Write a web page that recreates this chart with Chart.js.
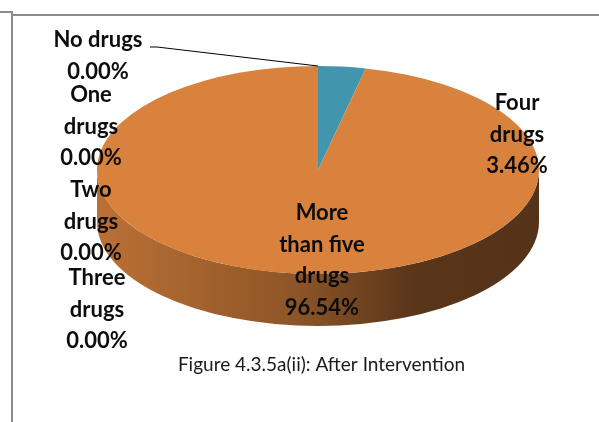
<!DOCTYPE html>
<html>
<head>
<meta charset="utf-8">
<title>After Intervention</title>
<script src="https://cdn.jsdelivr.net/npm/chart.js@4.4.1/dist/chart.umd.min.js"></script>
<style>
    html, body { margin: 0; padding: 0; background: #fff; }
    canvas { display: block; }
</style>
</head>
<body>
<canvas id="pieChart" width="599" height="422"></canvas>
<script>
// number of drugs per patient after the intervention (percent)
var categories = ['No drugs', 'One drugs', 'Two drugs', 'Three drugs', 'Four drugs', 'More than five drugs'];
var shares = [0, 0, 0, 0, 3.46, 96.54];
var sliceColors = ['#4F81BD', '#C0504D', '#9BBB59', '#8064A2', '#4196AE', '#D9823E'];
var labelLines = [['No drugs'], ['One', 'drugs'], ['Two', 'drugs'], ['Three', 'drugs'], ['Four', 'drugs'], ['More', 'than five', 'drugs']];
var caption = 'Figure 4.3.5a(ii): After Intervention';

// where the flat pie gets projected to, and how thick the slab is
var PIE = { cx: 318, cy: 170, rx: 221, ry: 104, depth: 52 };

// label block anchors (centre x, centre y of first line)
var labelPos = [[98, 40], [91, 95], [91, 190], [97, 278], [517, 103], [322, 213]];
var lineGap = 31.5;
var labelFont = 'bold 22px Lato, "Open Sans", sans-serif';

function shade(hex, f) {
    var n = parseInt(hex.slice(1), 16);
    var r = Math.round(((n >> 16) & 255) * f);
    var g = Math.round(((n >> 8) & 255) * f);
    var b = Math.round((n & 255) * f);
    return 'rgb(' + r + ',' + g + ',' + b + ')';
}

function ellipsePoint(t) {
    return { x: PIE.cx + PIE.rx * Math.cos(t), y: PIE.cy + PIE.ry * Math.sin(t) };
}

var pie3d = {
    id: 'pie3d',
    beforeDatasetsDraw: function (chart) {
        var ctx = chart.ctx;
        var arcs = chart.getDatasetMeta(0).data;

        // front wall, only the part of each slice facing the viewer
        arcs.forEach(function (arc, i) {
            var s = arc.startAngle, e = arc.endAngle;
            [0, 2 * Math.PI].forEach(function (off) {
                var a = Math.max(s, off), b = Math.min(e, off + Math.PI);
                if (b - a < 0.0001) return;
                var col = sliceColors[i];
                var grad = ctx.createLinearGradient(PIE.cx - PIE.rx, 0, PIE.cx + PIE.rx, 0);
                grad.addColorStop(0, shade(col, 0.86));
                grad.addColorStop(0.45, shade(col, 0.65));
                grad.addColorStop(0.72, shade(col, 0.41));
                grad.addColorStop(1, shade(col, 0.39));
                ctx.beginPath();
                ctx.ellipse(PIE.cx, PIE.cy, PIE.rx, PIE.ry, 0, a, b);
                ctx.ellipse(PIE.cx, PIE.cy + PIE.depth, PIE.rx, PIE.ry, 0, b, a, true);
                ctx.closePath();
                ctx.fillStyle = grad;
                ctx.fill();
            });
        });

        // squash the round pie into the top face
        var a0 = arcs[0];
        ctx.save();
        ctx.translate(PIE.cx, PIE.cy);
        ctx.scale(PIE.rx / a0.outerRadius, PIE.ry / a0.outerRadius);
        ctx.translate(-a0.x, -a0.y);
    },
    afterDatasetsDraw: function (chart) {
        chart.ctx.restore();
    },
    afterDraw: function (chart) {
        var ctx = chart.ctx;
        var arcs = chart.getDatasetMeta(0).data;
        ctx.save();

        // outer frame
        ctx.strokeStyle = '#8c8c8c';
        ctx.lineWidth = 2;
        ctx.beginPath();
        ctx.moveTo(0, 12); ctx.lineTo(12, 12); ctx.lineTo(12, 422);
        ctx.moveTo(12, 15); ctx.lineTo(599, 15);
        ctx.stroke();

        // leader for the first slice
        var tip = ellipsePoint(arcs[0].startAngle);
        ctx.strokeStyle = '#000';
        ctx.lineWidth = 1;
        ctx.beginPath();
        ctx.moveTo(150, 47); ctx.lineTo(157, 47); ctx.lineTo(tip.x, tip.y);
        ctx.stroke();

        // data labels
        ctx.font = labelFont;
        ctx.fillStyle = '#0d0d0d';
        ctx.textAlign = 'center';
        ctx.textBaseline = 'middle';
        categories.forEach(function (c, i) {
            var lines = labelLines[i].concat([shares[i].toFixed(2) + '%']);
            lines.forEach(function (txt, k) {
                ctx.fillText(txt, labelPos[i][0], labelPos[i][1] + k * lineGap);
            });
        });
        ctx.restore();
    }
};

var pieChart = new Chart(document.getElementById('pieChart'), {
    type: 'pie',
    data: {
        labels: categories,
        datasets: [{
            data: shares,
            backgroundColor: sliceColors,
            borderWidth: 0
        }]
    },
    options: {
        responsive: false,
        animation: false,
        layout: { padding: { left: 44, bottom: 46 } },
        plugins: {
            legend: { display: false },
            tooltip: { enabled: false },
            title: {
                display: true,
                position: 'bottom',
                text: caption,
                color: '#1a1a1a',
                font: { family: 'Lato, "Open Sans", sans-serif', size: 19, weight: 'normal' },
                padding: { top: 0, bottom: 0 }
            }
        }
    },
    plugins: [pie3d]
});
</script>
</body>
</html>
